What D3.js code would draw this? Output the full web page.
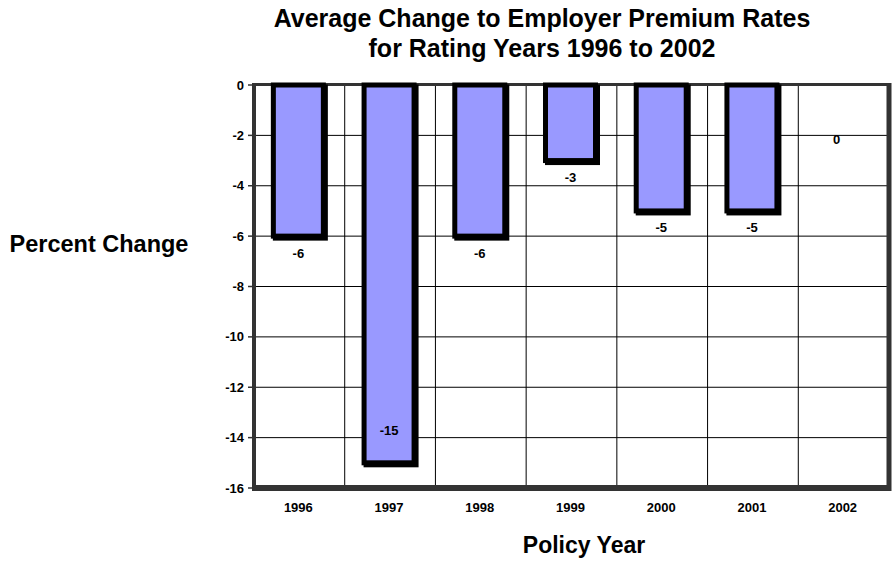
<!DOCTYPE html>
<html><head><meta charset="utf-8">
<script src="https://cdn.jsdelivr.net/npm/d3@7"></script>
<style>body{margin:0;background:#fff}text{font-family:"Liberation Sans",Arial,sans-serif;font-weight:bold;fill:#000}</style>
</head><body><svg id="c" width="893" height="561"></svg>
<script>
const years = ["1996","1997","1998","1999","2000","2001","2002"];
const changes = [-6,-15,-6,-3,-5,-5,0];
const yTicks = [0,-2,-4,-6,-8,-10,-12,-14,-16];
const titleLines = ["Average Change to Employer Premium Rates","for Rating Years 1996 to 2002"];

const svg = d3.select("#c");
const L=254, R=889, T=85, B=488;
const x = d3.scaleBand().domain(years).range([L,R]).paddingInner(0).paddingOuter(0);
const y = d3.scaleLinear().domain([-16,0]).range([B,T]);

// gridlines
svg.append("g").selectAll("line").data(yTicks).join("line")
  .attr("x1",L).attr("x2",R).attr("y1",d=>y(d)).attr("y2",d=>y(d))
  .attr("stroke","#000").attr("stroke-width",1);
svg.append("g").selectAll("line").data(years.slice(1)).join("line")
  .attr("x1",d=>x(d)).attr("x2",d=>x(d)).attr("y1",T).attr("y2",B)
  .attr("stroke","#000").attr("stroke-width",1);

// plot frame
svg.append("line").attr("x1",L).attr("x2",R+2).attr("y1",T-0.5).attr("y2",T-0.5).attr("stroke","#333").attr("stroke-width",3);
svg.append("line").attr("x1",R).attr("x2",R).attr("y1",T-2).attr("y2",B+3).attr("stroke","#333").attr("stroke-width",5);

// bars
const bw = 50, sw = 5;
const bars = svg.append("g");
const data = years.map((yr,i)=>({yr, v:changes[i]})).filter(d=>d.v!==0);
bars.selectAll("rect.sh").data(data).join("rect").attr("class","sh")
  .attr("x",d=>x(d.yr)+x.bandwidth()/2-bw/2+1).attr("y",d=>y(0)+2)
  .attr("width",bw).attr("height",d=>y(d.v)-y(0))
  .attr("fill","none").attr("stroke","#000").attr("stroke-width",sw);
bars.selectAll("rect.b").data(data).join("rect").attr("class","b")
  .attr("x",d=>x(d.yr)+x.bandwidth()/2-bw/2-1).attr("y",d=>y(0))
  .attr("width",bw).attr("height",d=>y(d.v)-y(0))
  .attr("fill","#9999FF").attr("stroke","#000").attr("stroke-width",sw);

// axes
svg.append("line").attr("x1",L).attr("x2",R+2).attr("y1",B).attr("y2",B).attr("stroke","#333").attr("stroke-width",6);
svg.append("line").attr("x1",L).attr("x2",L).attr("y1",T-2).attr("y2",B+3).attr("stroke","#333").attr("stroke-width",4);

svg.append("g").selectAll("line").data(yTicks).join("line")
  .attr("x1",L-6).attr("x2",L).attr("y1",d=>y(d)).attr("y2",d=>y(d)).attr("stroke","#333").attr("stroke-width",1.5);
svg.append("g").selectAll("text").data(yTicks).join("text")
  .attr("x",L-10).attr("y",d=>y(d)).attr("dy","0.35em").attr("text-anchor","end")
  .attr("font-size",13).text(d=>d);
svg.append("g").selectAll("text").data(years).join("text")
  .attr("x",d=>x(d)+x.bandwidth()/2-1).attr("y",512).attr("text-anchor","middle")
  .attr("font-size",13).text(d=>d);

// value labels
svg.append("g").selectAll("text").data(years.map((yr,i)=>({yr,v:changes[i]}))).join("text")
  .attr("x",d=>x(d.yr)+x.bandwidth()/2-1-(d.v===0?6:0))
  .attr("y",d=> d.v===0 ? y(-2)+4 : (y(d.v)+30>B ? y(d.v)-32 : y(d.v)+17))
  .attr("dy","0.35em").attr("text-anchor","middle").attr("font-size",13).text(d=>d.v);

// titles
svg.append("g").selectAll("text").data(titleLines).join("text")
  .attr("x",542).attr("y",(d,i)=>27+i*30).attr("text-anchor","middle").attr("font-size",25).text(d=>d);
svg.append("text").attr("x",99).attr("y",252).attr("text-anchor","middle").attr("font-size",23.5).text("Percent Change");
svg.append("text").attr("x",584).attr("y",553).attr("text-anchor","middle").attr("font-size",23).text("Policy Year");
</script></body></html>
